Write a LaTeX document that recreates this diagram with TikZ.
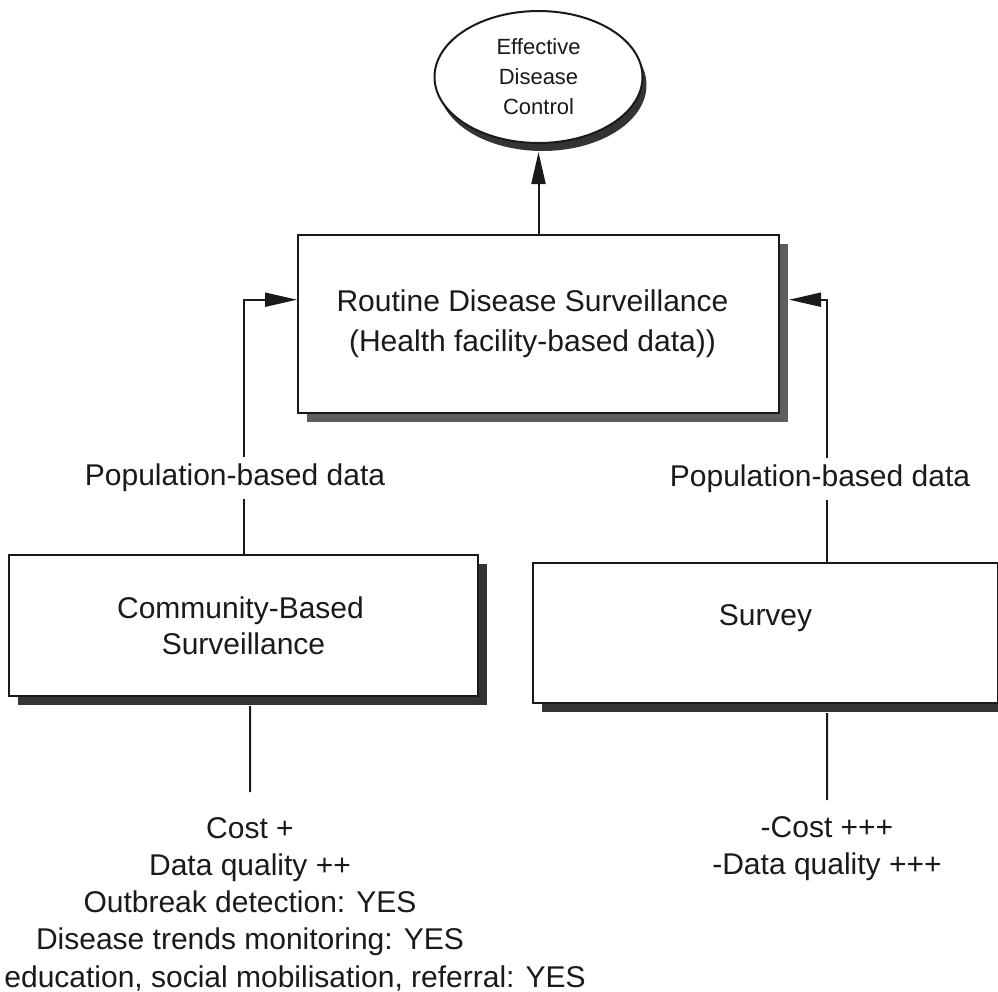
\documentclass[tikz,border=0pt]{standalone}
\usepackage{fontspec}
\setmainfont{Liberation Sans}
\usetikzlibrary{arrows.meta,calc,shapes.geometric,shadows}

\definecolor{ink}{HTML}{1A1A1A}
\definecolor{topshade}{HTML}{5E5E5E}
\definecolor{lowshade}{HTML}{343434}

\begin{document}
\begin{tikzpicture}[x=0.5pt,y=-0.5pt,
  every node/.style={text=ink},
  box/.style={draw=ink, line width=1pt, fill=white, rectangle, inner sep=0pt, align=center},
  topbox/.style={box, drop shadow={shadow xshift=4.5pt, shadow yshift=-4.5pt, fill=topshade, opacity=1}},
  lowbox/.style={box, drop shadow={shadow xshift=4.5pt, shadow yshift=-4.5pt, fill=lowshade, opacity=1}},
  goal/.style={ellipse, draw=ink, line width=1pt, fill=white, inner sep=0pt, align=center,
    drop shadow={shadow xshift=2pt, shadow yshift=-4pt, fill=lowshade, opacity=1}},
  conn/.style={draw=ink, line width=1pt},
  arr/.style={conn, -{Triangle[length=16pt,width=7pt]}},
  lbl/.style={font=\fontsize{15}{18}\selectfont, text height=11pt, text depth=3.5pt, inner xsep=2pt, inner ysep=3pt},
  note/.style={font=\fontsize{15}{18.5}\selectfont, align=center, inner sep=0pt}]

\clip (0,0) rectangle (998,992);

% goal and main system
\node[goal, minimum width=104pt, minimum height=66pt, font=\fontsize{11}{15}\selectfont]
  (edc) at (538.5,77) {Effective\\Disease\\Control};
\node[topbox, minimum width=240.5pt, minimum height=89pt, font=\fontsize{15}{20}\selectfont]
  (rds) at (538.5,324) {Routine Disease Surveillance\hspace*{6pt}\\(Health facility-based data))\hspace*{6pt}};

% data sources
\node[lowbox, minimum width=234.5pt, minimum height=70.5pt, font=\fontsize{15}{18}\selectfont]
  (cbs) at (243.5,625.5) {Community-Based\hspace*{3pt}\\Surveillance};
\node[lowbox, minimum width=232.5pt, minimum height=70pt, font=\fontsize{15}{18}\selectfont]
  (svy) at (765.5,633) {Survey\\\mbox{}};

% connector labels
\node[lbl] (lpd) at (235,478) {Population-based data};
\node[lbl] (rpd) at (820,479) {Population-based data};

% routine surveillance feeds disease control
\draw[arr] (rds.north) -- ($(edc.south)+(0,8)$);

% community-based surveillance into routine surveillance
\draw[conn] (cbs.north) -- (cbs.north |- lpd.south);
\draw[arr] (cbs.north |- lpd.north) |- ($(rds.north west)!0.365!(rds.south west)$);

% survey into routine surveillance
\coordinate (svytop) at ($(svy.north west)!0.632!(svy.north east)$);
\draw[conn] (svytop) -- (svytop |- rpd.south);
\draw[arr] (svytop |- rpd.north) |- ($(rds.north east)!0.365!(rds.south east)+(9,0)$);

% properties of each source
\coordinate (cbsend) at (250,792);
\draw[conn] ($(cbs.south west)!0.514!(cbs.south east)+(0,9)$) -- (cbsend);
\coordinate (svyend) at (827,800);
\draw[conn] ($(svytop |- svy.south)+(0,9)$) -- (svyend);

\node[note] (cbsnote) at (250,886.5)
  {Cost +\\Data quality ++\\Outbreak detection: YES\\Disease trends monitoring: YES};
\node[note, anchor=base west] (cbsnote2) at (4,987)
  {education, social mobilisation, referral: YES};
\node[note] (svynote) at (827,848.5) {-Cost +++\\-Data quality +++};

\end{tikzpicture}
\end{document}
